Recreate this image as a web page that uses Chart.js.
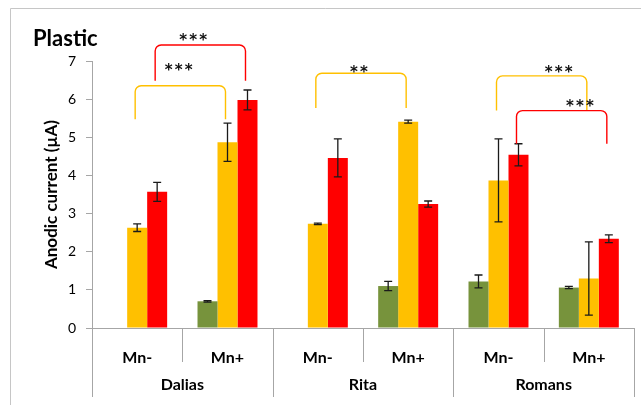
<!DOCTYPE html>
<html>
<head>
<meta charset="utf-8">
<script src="https://cdn.jsdelivr.net/npm/chart.js@4/dist/chart.umd.min.js"></script>
<style>
  html, body { margin: 0; padding: 0; background: #fff; }
  #wrap { width: 641px; height: 405px; }
</style>
</head>
<body>
<div id="wrap"><canvas id="myChart" width="641" height="405"></canvas></div>
<script>
// values
const categories = ['Mn-', 'Mn+', 'Mn-', 'Mn+', 'Mn-', 'Mn+'];
const groups = ['Dalias', 'Rita', 'Romans'];
const yTicks = [0, 1, 2, 3, 4, 5, 6, 7];

const greenValues = [null, 0.70, null, 1.10, 1.22, 1.06];
const greenErrors = [0, 0.02, 0, 0.12, 0.17, 0.03];
const yellowValues = [2.63, 4.87, 2.73, 5.41, 3.87, 1.30];
const yellowErrors = [0.10, 0.50, 0.02, 0.04, 1.09, 0.96];
const redValues = [3.57, 5.98, 4.46, 3.25, 4.54, 2.34];
const redErrors = [0.25, 0.26, 0.50, 0.08, 0.29, 0.10];

// significance brackets: series index, from/to category, top + leg end (y units), label
const brackets = [
  { series: 1, from: 0, to: 1, top: 6.35, ends: 5.47, label: '***', labelX: 0.46, labelY: 6.73 },
  { series: 2, from: 0, to: 1, top: 7.42, ends: 6.48, label: '***', labelX: 0.62, labelY: 7.63 },
  { series: 1, from: 2, to: 3, top: 6.68, ends: 5.77, label: '**', labelX: 2.455, labelY: 6.79 },
  { series: 1, from: 4, to: 5, top: 6.61, ends: 5.70, label: '***', labelX: 4.665, labelY: 6.78 },
  { series: 2, from: 4, to: 5, top: 5.70, ends: 4.83, label: '***', labelX: 4.9, labelY: 5.90 }
];

const green = '#77933C', yellow = '#FFC000', red = '#FF0000';
const axisGray = '#a6a6a6';

const extras = {
  id: 'extras',
  beforeDraw(chart) {
    const c = chart.ctx;
    c.save();
    c.strokeStyle = '#c6c6c6';
    c.lineWidth = 1;
    c.beginPath();
    c.moveTo(10.5, chart.height);
    c.lineTo(10.5, 8.5);
    c.lineTo(chart.width, 8.5);
    c.stroke();
    c.restore();
  },
  afterDatasetsDraw(chart) {
    const c = chart.ctx, ys = chart.scales.y;
    c.save();
    c.strokeStyle = '#1a1a1a';
    c.lineWidth = 1.3;
    chart.data.datasets.forEach((ds, d) => {
      const meta = chart.getDatasetMeta(d);
      ds.errors.forEach((e, i) => {
        const v = ds.data[i];
        if (v == null) return;
        const x = meta.data[i].x;
        const y1 = ys.getPixelForValue(v + e), y2 = ys.getPixelForValue(v - e);
        c.beginPath();
        c.moveTo(x, y1); c.lineTo(x, y2);
        c.moveTo(x - 4, y1); c.lineTo(x + 4, y1);
        c.moveTo(x - 4, y2); c.lineTo(x + 4, y2);
        c.stroke();
      });
    });
    c.restore();
  },
  afterDraw(chart) {
    const c = chart.ctx, xs = chart.scales.x, ys = chart.scales.y;
    const w = (xs.right - xs.left) / categories.length;
    const base = ys.getPixelForValue(0);
    c.save();
    // category separators below the axis
    c.strokeStyle = axisGray;
    c.lineWidth = 1;
    for (let k = 0; k <= categories.length; k++) {
      const x = Math.round(xs.left + k * w) + 0.5;
      c.beginPath();
      c.moveTo(x, base);
      c.lineTo(x, k % 2 === 0 ? base + 69 : base + 34);
      c.stroke();
    }
    // group labels
    c.fillStyle = '#000';
    c.font = 'bold 16px Lato';
    c.textAlign = 'center';
    c.textBaseline = 'middle';
    groups.forEach((g, i) => {
      const x = (xs.getPixelForValue(2 * i) + xs.getPixelForValue(2 * i + 1)) / 2;
      c.fillText(g, x, base + 57);
    });
    // brackets
    brackets.forEach(b => {
      const meta = chart.getDatasetMeta(b.series);
      const x1 = meta.data[b.from].x - 2, x2 = meta.data[b.to].x - 2;
      const yt = ys.getPixelForValue(b.top), ye = ys.getPixelForValue(b.ends);
      const r = 6;
      c.strokeStyle = chart.data.datasets[b.series].backgroundColor;
      c.lineWidth = 1.4;
      c.beginPath();
      c.moveTo(x1, ye);
      c.arcTo(x1, yt, x1 + r, yt, r);
      c.arcTo(x2, yt, x2, yt + r, r);
      c.lineTo(x2, ye);
      c.stroke();
      // asterisks
      c.fillStyle = '#111';
      c.font = 'bold 15px "DejaVu Sans"';
      const m = c.measureText('*');
      const cy = ys.getPixelForValue(b.labelY);
      const baseline = cy + (m.actualBoundingBoxAscent - m.actualBoundingBoxDescent) / 2;
      const cx = xs.getPixelForValue(b.labelX);
      const pitch = 10;
      const n = b.label.length;
      c.textBaseline = 'alphabetic';
      for (let j = 0; j < n; j++) {
        c.fillText('*', cx + (j - (n - 1) / 2) * pitch, baseline);
      }
    });
    c.restore();
  }
};

new Chart(document.getElementById('myChart').getContext('2d'), {
  type: 'bar',
  data: {
    labels: categories,
    datasets: [
      { data: greenValues, errors: greenErrors, backgroundColor: green },
      { data: yellowValues, errors: yellowErrors, backgroundColor: yellow },
      { data: redValues, errors: redErrors, backgroundColor: red }
    ]
  },
  options: {
    responsive: false,
    animation: false,
    devicePixelRatio: 1,
    layout: { padding: { left: 33, right: 7, top: 26, bottom: 0 } },
    datasets: { bar: { categoryPercentage: 0.664, barPercentage: 1, borderWidth: 0 } },
    plugins: {
      legend: { display: false },
      tooltip: { enabled: false },
      title: {
        display: true,
        text: 'Plastic',
        align: 'start',
        color: '#000',
        font: { family: 'Lato', size: 22, weight: 'bold', lineHeight: 1.2 },
        padding: { top: 0, bottom: 8.6 }
      }
    },
    scales: {
      x: {
        afterFit(scale) { scale.height = 77; },
        grid: { display: false },
        border: { display: true, color: axisGray },
        ticks: { color: '#000', padding: 12, font: { family: 'Lato', size: 16, weight: 'bold' } }
      },
      y: {
        min: 0,
        max: 7,
        afterFit(scale) { scale.width = 59; },
        afterBuildTicks(scale) { scale.ticks = yTicks.map(v => ({ value: v })); },
        grid: { display: true, drawOnChartArea: false, drawTicks: true, tickLength: 6, color: axisGray },
        border: { display: true, color: axisGray },
        ticks: { color: '#000', padding: 10, font: { family: 'Lato', size: 14 } },
        title: {
          display: true,
          text: 'Anodic current (µA)',
          color: '#000',
          padding: { top: 8, bottom: 0 },
          font: { family: 'Lato', size: 17, weight: 'bold' }
        }
      }
    }
  },
  plugins: [extras]
});
</script>
</body>
</html>
